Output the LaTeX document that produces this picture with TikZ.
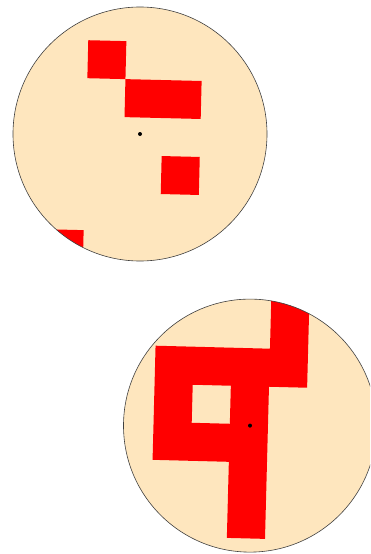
\documentclass[tikz,border=0pt]{standalone}
\usepackage{tikz}
\definecolor{disc}{RGB}{254,230,190}
\definecolor{cell}{RGB}{255,0,0}
\tikzset{
  discfill/.style={fill=disc},
  discrim/.style={draw=black!75,line width=0.6pt},
  cellfill/.style={fill=cell},
  centredot/.style={fill=black}
}
\begin{document}
\begin{tikzpicture}[x=1pt,y=-1pt]
\useasboundingbox (0,0) rectangle (370,554);
\clip (0,0) rectangle (370,554);
\fill[white] (0,0) rectangle (370,554);
% ---------- top disc ----------
\begin{scope}
  \clip (140,134) circle[radius=127pt];
  \fill[discfill] (140,134) circle[radius=127pt];
  \begin{scope}[shift={(140,134)},rotate=-1.4]
    \begin{scope}[shift={(-54,-92.5)}]
      \begin{scope}[x=38.1pt,y=-38pt]
        \fill[cellfill] (0,0) rectangle (1,1);
        \fill[cellfill] (1,1) rectangle (3,2);
        \fill[cellfill] (2,3) rectangle (3,4);
        \fill[cellfill] (-1,5) rectangle (0,6);
      \end{scope}
    \end{scope}
  \end{scope}
\end{scope}
\draw[discrim] (140,134) circle[radius=127pt];
\fill[centredot] (140,134) circle[radius=2pt];
% ---------- bottom disc ----------
\begin{scope}
  \clip (250,425.6) circle[radius=126.5pt];
  \fill[discfill] (250,425.6) circle[radius=126.5pt];
  \begin{scope}[shift={(250,425.6)},rotate=-1.5]
    \begin{scope}[shift={(-96.5,-77.4)}]
      \begin{scope}[x=38.15pt,y=-38.05pt]
        \fill[cellfill,even odd rule]
          (3,-4) -- (3,0) -- (0,0) -- (0,3) -- (2,3) -- (2,5) -- (3,5)
          -- (3,1) -- (4,1) -- (4,-4) -- cycle
          (1,1) -- (2,1) -- (2,2) -- (1,2) -- cycle;
      \end{scope}
    \end{scope}
  \end{scope}
\end{scope}
\draw[discrim] (250,425.6) circle[radius=126.5pt];
\fill[centredot] (250,425.6) circle[radius=2pt];
\end{tikzpicture}
\end{document}
